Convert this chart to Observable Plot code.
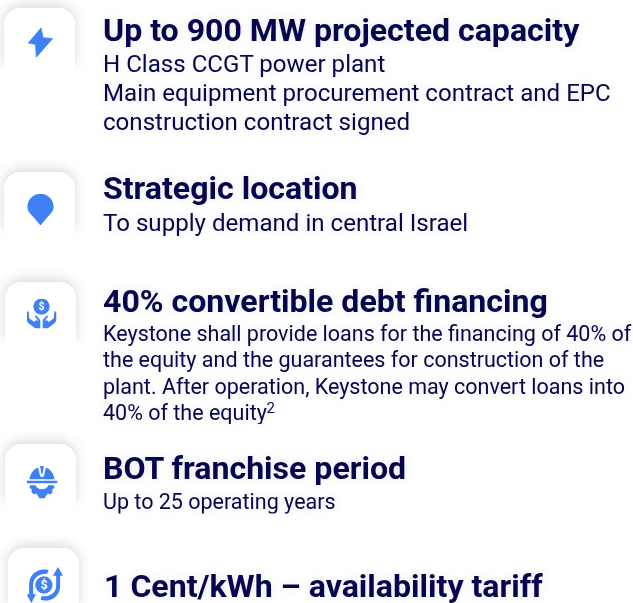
<!DOCTYPE html>
<html><head><meta charset="utf-8">
<style>html,body{margin:0;padding:0;background:#fff;overflow:hidden}svg{display:block}</style>
<script src="https://cdn.jsdelivr.net/npm/d3@7"></script>
<script src="https://cdn.jsdelivr.net/npm/@observablehq/plot@0.6"></script>
</head><body><div id="c"></div>
<script>
const headings = ["Up to 900 MW projected capacity","Strategic location","40% convertible debt financing","BOT franchise period","1 Cent/kWh – availability tariff"];
const bodyLarge = ["H Class CCGT power plant","Main equipment procurement contract and EPC","construction contract signed","To supply demand in central Israel"];
const bodySmall = ["Keystone shall provide loans for the financing of 40% of","the equity and the guarantees for construction of the","plant. After operation, Keystone may convert loans into","40% of the equity","Up to 25 operating years"];
const footnoteMark = ["2"];
const iconNames = ["bolt","pin","hands","helmet","cycle"];

// layout (separate from content)
const headPos = [[102.5,40],[102.5,198],[102.5,311],[102.5,478],[103.5,596]];
const largeY = [71,100,129,230];
const smallY = [340,366,393,419,508];
const cardPos = [[4,8],[4,172],[5,282],[5,444],[8,548]];
const iconBox = [[40,42,30],[40,209,32],[41,313,30],[41.5,481.5,33],[44.5,584.5,36]];
const blue = "#3f80f5", navy = "#06064f";
const icons = {
 bolt:`<path d="M52 1 L9 52 L33 57 L36 99 L91 37 L59 34Z" stroke="${blue}" stroke-width="2" stroke-linejoin="round"/>`,
 pin:`<path d="M50 1 C72 1 91 19 91 41 C91 57 80 66 70 76 L50 100 L30 76 C20 66 9 57 9 41 C9 19 28 1 50 1Z"/>`,
 hands:`<circle cx="50" cy="27" r="27"/><text x="50" y="39" font-size="34" font-weight="700" text-anchor="middle" font-family="Roboto" fill="#fff">$</text>
   <path d="M0 46 L7 42 L9 66 L26 78 L32 72 L40 76 L28 60 L32 56 L46 72 L46 100 L30 100 L6 82 Q0 76 0 68Z"/><path d="M100 46 L93 42 L91 66 L74 78 L68 72 L60 76 L72 60 L68 56 L54 72 L54 100 L70 100 L94 82 Q100 76 100 68Z"/>`,
 helmet:`<path d="M12 42 C14 24 26 10 38 6 L45 34 H55 L62 6 C74 10 86 24 88 42Z"/><path d="M44 0 H56 L52 24 H48Z"/><rect x="4" y="46" width="92" height="8" rx="2"/>
   <path d="M14 60 H31 C34 76 66 76 69 60 H86 L88 68 L81 72 L82 80 L75 88 L68 85 L62 92 L58 100 H42 L38 92 L32 85 L25 88 L18 80 L19 72 L12 68Z"/>`,
 cycle:`<circle cx="47" cy="50" r="24"/><text x="47" y="62" font-size="34" font-weight="700" text-anchor="middle" font-family="Roboto" fill="#fff">$</text>
   <path d="M60 8 C30 2 6 20 6 48 L6 76 L-1 76 L12 100 L25 76 L17 76 L17 50 C17 30 34 18 56 19Z"/>
   <path d="M38 92 C66 98 92 82 92 54 L92 24 L100 24 L86 0 L72 24 L81 24 L81 52 C81 72 62 84 40 81Z"/>`
};
const uri = n => "data:image/svg+xml;charset=utf-8," + encodeURIComponent(
  `<svg xmlns="http://www.w3.org/2000/svg" viewBox="0 0 100 100" fill="${blue}" overflow="visible">${icons[n]}</svg>`);

const glow = "drop-shadow(0 0 4px rgba(40,40,90,.1))";
const textBase = {fill:navy, textAnchor:"start", lineAnchor:"bottom", fontFamily:"Roboto", imageFilter:glow};

const chart = Plot.plot({
  width:633, height:603, margin:0, axis:null,
  style:{background:"#fff"},
  x:{type:"linear",domain:[0,633],range:[0,633]},
  y:{type:"linear",domain:[0,603],range:[0,603]},
  marks:[
    Plot.rect(cardPos,{x1:d=>d[0],y1:d=>d[1],x2:d=>d[0]+71,y2:d=>d[1]+74,fill:"#fff",rx:16,
      imageFilter:"drop-shadow(0 -3px 6px rgba(30,30,70,.17))"}),
    Plot.rect(cardPos,{x1:d=>d[0]-12,y1:d=>d[1]+58,x2:d=>d[0]+83,y2:d=>d[1]+90,fill:"#fff",imageFilter:"blur(6px)"}),
    Plot.image(iconNames,{x:(d,i)=>iconBox[i][0],y:(d,i)=>iconBox[i][1],src:uri,width:(d,i)=>iconBox[i][2],height:(d,i)=>iconBox[i][2]}),
    Plot.text(headings,{...textBase,text:d=>d,x:(d,i)=>headPos[i][0],y:(d,i)=>headPos[i][1],fontSize:32.1,fontWeight:700}),
    Plot.text(bodyLarge,{...textBase,text:d=>d,x:102.5,y:(d,i)=>largeY[i],fontSize:24.1,fontWeight:400}),
    Plot.text(bodySmall,{...textBase,text:d=>d,x:102.5,y:(d,i)=>smallY[i],fontSize:21.5,fontWeight:400}),
    Plot.text(footnoteMark,{...textBase,text:d=>d,x:266,y:412,fontSize:15})
  ]
});
document.getElementById("c").append(chart);
</script></body></html>
